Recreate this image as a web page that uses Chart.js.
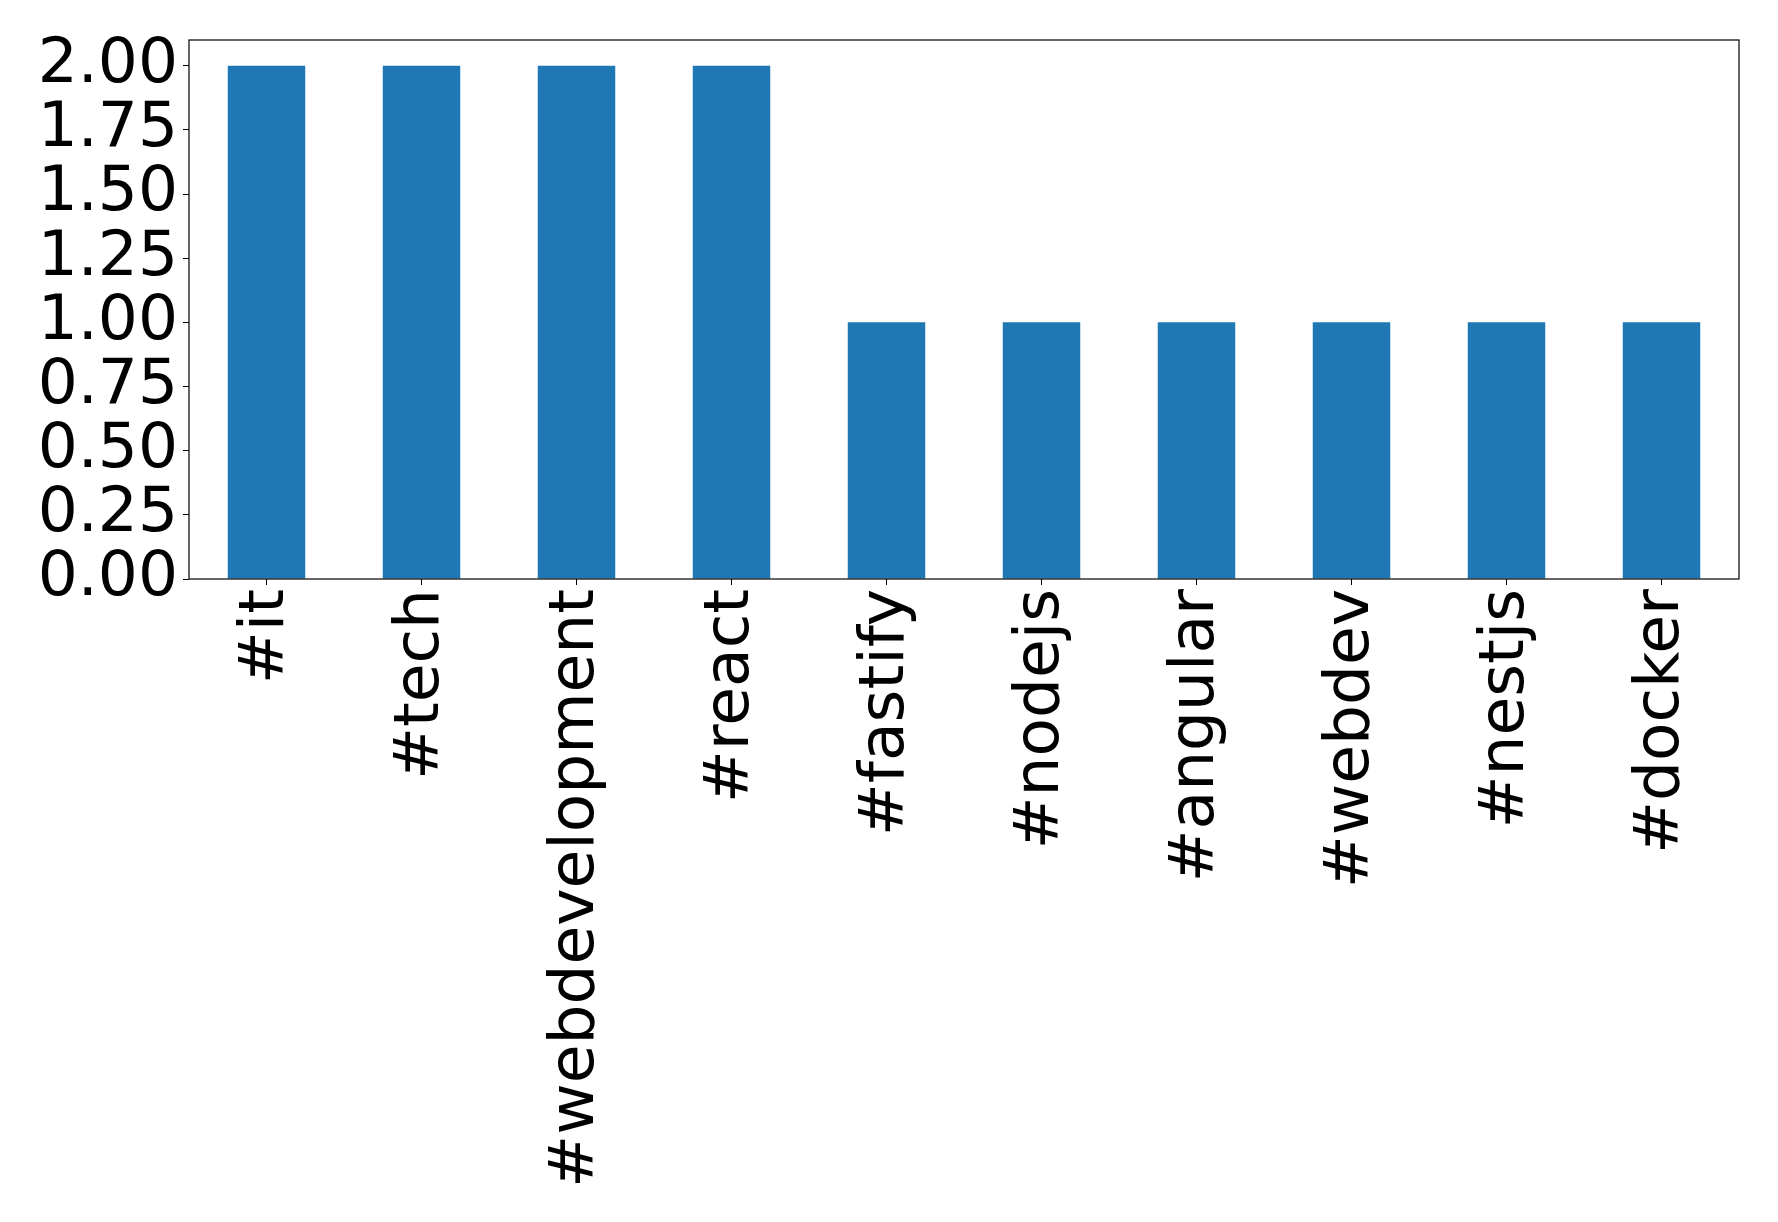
<!DOCTYPE html>
<html>
<head>
<meta charset="utf-8">
<script src="https://cdn.jsdelivr.net/npm/chart.js@4/dist/chart.umd.min.js"></script>
<style>
  html, body { margin: 0; padding: 0; background: #fff; }
  #wrap { width: 1778px; height: 1222px; position: relative; }
</style>
</head>
<body>
<div id="wrap"><canvas id="chart"></canvas></div>
<script>
// hashtag counts
const tags = ["#it", "#tech", "#webdevelopment", "#react", "#fastify", "#nodejs", "#angular", "#webdev", "#nestjs", "#docker"];
const counts = [2, 2, 2, 2, 1, 1, 1, 1, 1, 1];
const yTicks = [0, 0.25, 0.5, 0.75, 1.0, 1.25, 1.5, 1.75, 2.0];

const FONT = "'DejaVu Sans', sans-serif";

// full box round the plot, like matplotlib's spines
const frame = {
  id: "frame",
  afterDraw(chart) {
    const a = chart.chartArea;
    const c = chart.ctx;
    c.save();
    c.strokeStyle = "#000";
    c.lineWidth = 1.2;
    c.strokeRect(a.left, a.top, a.right - a.left, a.bottom - a.top);
    c.restore();
  },
};

new Chart(document.getElementById("chart"), {
  type: "bar",
  data: {
    labels: tags,
    datasets: [
      {
        data: counts,
        backgroundColor: "#1f77b4",
        borderWidth: 0,
        barPercentage: 0.5,
        categoryPercentage: 1.0,
      },
    ],
  },
  options: {
    responsive: true,
    maintainAspectRatio: false,
    animation: false,
    layout: { padding: { top: 40, right: 39, left: 0, bottom: 0 } },
    plugins: { legend: { display: false }, tooltip: { enabled: false } },
    scales: {
      x: {
        offset: true,
        grid: { display: true, offset: false, drawOnChartArea: false, drawTicks: true, tickLength: 6, color: "#000" },
        border: { display: false },
        ticks: {
          autoSkip: false,
          minRotation: 90,
          maxRotation: 90,
          padding: 4,
          color: "#000",
          font: { family: FONT, size: 63 },
        },
        afterFit: (s) => { s.height = 1222 - 579; },
      },
      y: {
        min: 0,
        max: 2.1,
        grid: { display: true, drawOnChartArea: false, drawTicks: true, tickLength: 6, color: "#000" },
        border: { display: false },
        afterBuildTicks: (s) => { s.ticks = yTicks.map((v) => ({ value: v })); },
        ticks: {
          autoSkip: false,
          padding: 5,
          color: "#000",
          font: { family: FONT, size: 63, lineHeight: 1.0 },
          callback: (v) => Number(v).toFixed(2),
        },
        afterFit: (s) => { s.width = 189; },
      },
    },
  },
  plugins: [frame],
});
</script>
</body>
</html>
